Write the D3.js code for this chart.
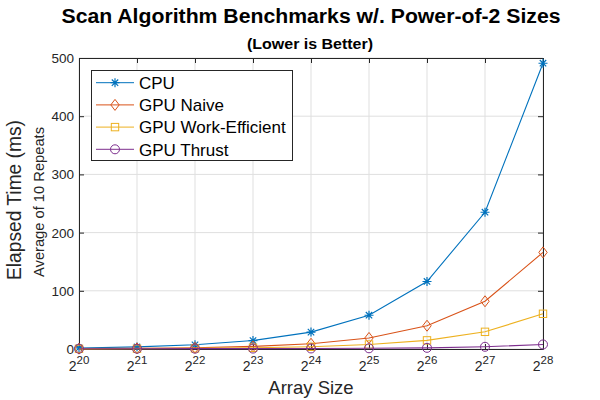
<!DOCTYPE html>
<html><head><meta charset="utf-8">
<script src="https://cdn.jsdelivr.net/npm/d3@7"></script>
<style>body{margin:0;background:#fff}text{font-family:"Liberation Sans",Arial,Helvetica,sans-serif}</style>
</head><body><svg id="c" width="600" height="400"></svg>
<script>
const exponents = [20,21,22,23,24,25,26,27,28];
const cpu = [1.8,3.6,7.3,14.5,29,58,116,235,491];
const gpuNaive = [0.6,1.1,2.1,4.5,9,19,40,82,166];
const gpuWorkEfficient = [0.3,0.5,1,2,3.8,7.7,14.8,29.5,60.5];
const gpuThrust = [0.5,0.5,0.6,0.7,0.9,1.2,2,3.8,7.8];
const yTicks = [0,100,200,300,400,500];
const seriesNames = ["CPU","GPU Naive","GPU Work-Efficient","GPU Thrust"];
const seriesColors = ["#0072BD","#D95319","#EDB120","#7E2F8E"];
const seriesMarkers = ["star","diamond","square","circle"];
const seriesData = [cpu,gpuNaive,gpuWorkEfficient,gpuThrust];

const svg = d3.select("#c");
const L=79,R=543,T=58,B=349;
const x = d3.scaleLinear().domain([20,28]).range([L,R]);
const y = d3.scaleLinear().domain([0,500]).range([B,T]);
const axisCol="#262626";

// grid
const g = svg.append("g");
g.selectAll(".gx").data(exponents).enter().append("line")
 .attr("x1",d=>x(d)).attr("x2",d=>x(d)).attr("y1",T).attr("y2",B)
 .attr("stroke","#dfdfdf").attr("stroke-width",1);
g.selectAll(".gy").data(yTicks).enter().append("line")
 .attr("x1",L).attr("x2",R).attr("y1",d=>y(d)).attr("y2",d=>y(d))
 .attr("stroke","#dfdfdf").attr("stroke-width",1);

// axes
const ax = svg.append("g").attr("transform",`translate(0,${B})`)
 .call(d3.axisBottom(x).tickValues(exponents).tickSizeInner(-5).tickSizeOuter(0).tickFormat(""));
const ay = svg.append("g").attr("transform",`translate(${L},0)`)
 .call(d3.axisLeft(y).tickValues(yTicks).tickSizeInner(-5).tickSizeOuter(0).tickFormat(""));
const axT = svg.append("g").attr("transform",`translate(0,${T})`)
 .call(d3.axisTop(x).tickValues(exponents).tickSizeInner(-5).tickSizeOuter(0).tickFormat(""));
const ayR = svg.append("g").attr("transform",`translate(${R},0)`)
 .call(d3.axisRight(y).tickValues(yTicks).tickSizeInner(-5).tickSizeOuter(0).tickFormat(""));
[ax,ay,axT,ayR].forEach(a=>{a.selectAll("path,line").attr("stroke",axisCol);});

// tick labels
svg.selectAll(".yl").data(yTicks).enter().append("text")
 .attr("x",L-5).attr("y",d=>y(d)+5).attr("text-anchor","end")
 .attr("font-size",13.5).attr("fill",axisCol).text(d=>d);
const xl = svg.selectAll(".xl").data(exponents).enter().append("text")
 .attr("x",d=>x(d)).attr("y",B+22).attr("text-anchor","middle").attr("fill",axisCol);
xl.append("tspan").attr("font-size",14).text("2");
xl.append("tspan").attr("font-size",11.5).attr("dy",-7.5).text(d=>d);

// labels
svg.append("text").attr("x",311).attr("y",23).attr("text-anchor","middle")
 .attr("font-size",20).attr("font-weight","bold").attr("fill","#000")
 .attr("textLength",499).attr("lengthAdjust","spacingAndGlyphs")
 .text("Scan Algorithm Benchmarks w/. Power-of-2 Sizes");
svg.append("text").attr("x",310).attr("y",48.5).attr("text-anchor","middle")
 .attr("font-size",15).attr("font-weight","bold").attr("fill","#000")
 .attr("textLength",126).attr("lengthAdjust","spacingAndGlyphs")
 .text("(Lower is Better)");
svg.append("text").attr("x",311).attr("y",394).attr("text-anchor","middle")
 .attr("font-size",18.5).attr("fill",axisCol).text("Array Size");
svg.append("text").attr("transform","translate(21,200) rotate(-90)").attr("text-anchor","middle")
 .attr("font-size",19.5).attr("fill",axisCol)
 .attr("textLength",160).attr("lengthAdjust","spacingAndGlyphs").text("Elapsed Time (ms)");
svg.append("text").attr("transform","translate(43.5,202) rotate(-90)").attr("text-anchor","middle")
 .attr("font-size",15).attr("fill",axisCol)
 .attr("textLength",150).attr("lengthAdjust","spacingAndGlyphs").text("Average of 10 Repeats");

function marker(sel,type,col){
  if(type==="star"){
    const p="M-4.5,0H4.5M0,-4.5V4.5M-3.2,-3.2L3.2,3.2M-3.2,3.2L3.2,-3.2";
    sel.append("path").attr("d",p).attr("stroke",col).attr("stroke-width",1.2).attr("fill","none");
  } else if(type==="diamond"){
    sel.append("path").attr("d","M0,-5.5L4.2,0L0,5.5L-4.2,0Z").attr("stroke",col).attr("fill","none");
  } else if(type==="square"){
    sel.append("rect").attr("x",-3.7).attr("y",-3.7).attr("width",7.4).attr("height",7.4).attr("stroke",col).attr("fill","none");
  } else {
    sel.append("circle").attr("r",4.5).attr("stroke",col).attr("fill","none");
  }
}

const line = d3.line().x((d,i)=>x(exponents[i])).y(d=>y(d));
seriesData.forEach((data,si)=>{
  const col=seriesColors[si];
  svg.append("path").datum(data).attr("d",line).attr("fill","none").attr("stroke",col).attr("stroke-width",1.1);
  data.forEach((v,i)=>{
    const m=svg.append("g").attr("transform",`translate(${x(exponents[i])},${y(v)})`);
    marker(m,seriesMarkers[si],col);
  });
});

// legend
const lg = svg.append("g");
lg.append("rect").attr("x",91.5).attr("y",70.5).attr("width",201).attr("height",90)
 .attr("fill","#fff").attr("stroke",axisCol).attr("stroke-width",1);
seriesNames.forEach((n,i)=>{
  const yy=82.7+i*22.2;
  lg.append("line").attr("x1",96).attr("x2",134).attr("y1",yy).attr("y2",yy).attr("stroke",seriesColors[i]);
  const m=lg.append("g").attr("transform",`translate(115,${yy})`);
  marker(m,seriesMarkers[i],seriesColors[i]);
  lg.append("text").attr("x",139).attr("y",yy+6.3).attr("font-size",17).attr("fill","#000").text(n);
});
</script></body></html>
